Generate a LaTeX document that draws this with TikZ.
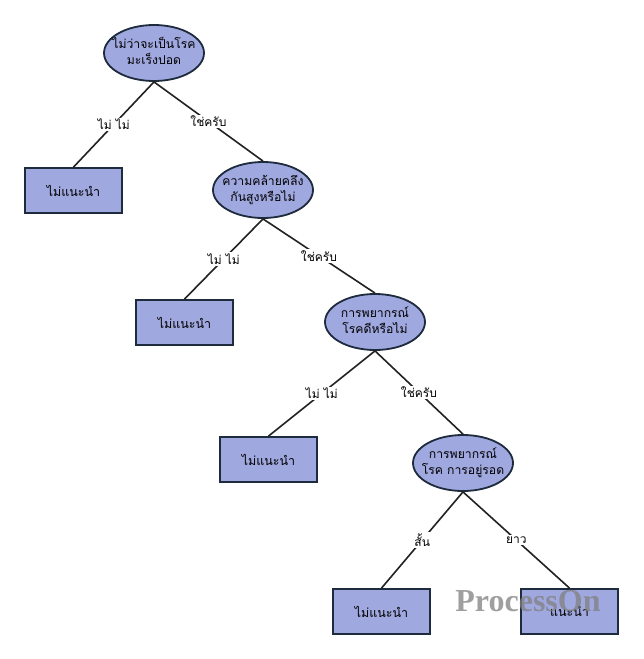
\documentclass[tikz,border=0pt]{standalone}
\usepackage{fontspec}
\setmainfont{Liberation Serif}
\newfontfamily\thaifont[Script=Thai]{Loma}
\usetikzlibrary{shapes.geometric}
\definecolor{nodefill}{HTML}{A0A8E0}
\definecolor{nodeline}{HTML}{1E2B3C}
\definecolor{edgeline}{HTML}{222222}
\newcommand{\twolines}[2]{\raisebox{-2.5pt}{\makebox[0pt]{\begin{tabular}{@{}c@{}}#1\\#2\end{tabular}}}}
\tikzset{
  decision/.style={ellipse, draw=nodeline, line width=1.8pt, fill=nodefill,
    minimum width=100pt, minimum height=56pt, inner sep=0pt,
    font=\thaifont\fontsize{12.2}{16.5}\selectfont},
  leaf/.style={rectangle, draw=nodeline, line width=1.8pt, fill=nodefill,
    minimum width=97pt, minimum height=45pt, inner sep=0pt,
    font=\thaifont\fontsize{12.5}{16}\selectfont},
  conn/.style={draw=edgeline, line width=1.6pt},
  elabel/.style={fill=white, inner sep=1.5pt, text=black,
    font=\thaifont\fontsize{12}{14}\selectfont}
}
\begin{document}
\begin{tikzpicture}[x=1pt,y=-1pt]
\useasboundingbox (0,0) rectangle (643,659);
\fill[white] (0,0) rectangle (643,659);

\node[decision] (e1) at (154,53) {\twolines{ไม่ว่าจะเป็นโรค}{มะเร็งปอด}};
\node[decision] (e2) at (263,190) {\twolines{ความคล้ายคลึง}{กันสูงหรือไม่}};
\node[decision] (e3) at (375,322) {\twolines{การพยากรณ์}{โรคดีหรือไม่}};
\node[decision] (e4) at (463,463) {\twolines{การพยากรณ์}{โรค การอยู่รอด}};

\node[leaf] (r1) at (73.5,190.5) {ไม่แนะนำ};
\node[leaf] (r2) at (184.5,322.5) {ไม่แนะนำ};
\node[leaf] (r3) at (268.5,459.5) {ไม่แนะนำ};
\node[leaf] (r4) at (381.5,611.5) {ไม่แนะนำ};
\node[leaf] (r5) at (569.5,611.5) {แนะนำ};

\path[conn] (e1.south) -- node[elabel] {ไม่ ไม่} (r1.north);
\path[conn] (e1.south) -- node[elabel] {ใช่ครับ} (e2.north);
\path[conn] (e2.south) -- node[elabel] {ไม่ ไม่} (r2.north);
\path[conn] (e2.south) -- node[elabel] {ใช่ครับ} (e3.north);
\path[conn] (e3.south) -- node[elabel] {ไม่ ไม่} (r3.north);
\path[conn] (e3.south) -- node[elabel] {ใช่ครับ} (e4.north);
\path[conn] (e4.south) -- node[elabel] {สั้น} (r4.north);
\path[conn] (e4.south) -- node[elabel] {ยาว} (r5.north);

\node[text=gray, opacity=0.75, font=\bfseries\fontsize{32}{34}\selectfont] (wm) at (528,601) {ProcessOn};
\end{tikzpicture}
\end{document}
